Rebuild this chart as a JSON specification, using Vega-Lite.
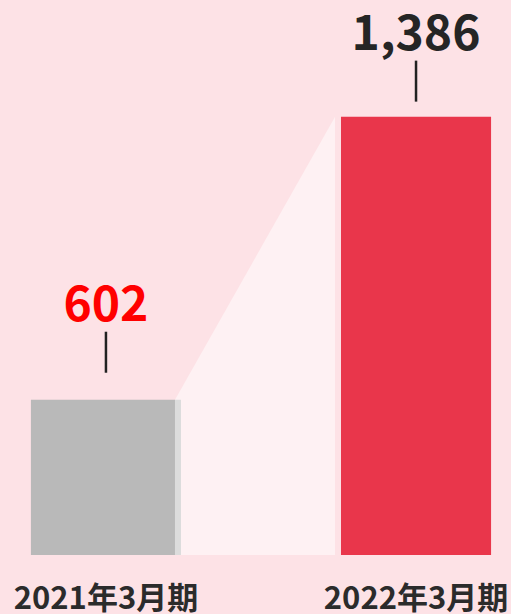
{
  "$schema": "https://vega.github.io/schema/vega-lite/v6.json",
  "width": 511,
  "height": 555,
  "padding": 0,
  "background": "#fde2e6",
  "config": {"view": {"stroke": null}},
  "data": {"values": [
    {"period": "2021年3月期", "value": 602},
    {"period": "2022年3月期", "value": 1386}
  ]},
  "encoding": {
    "x": {
      "field": "period",
      "type": "nominal",
      "sort": null,
      "scale": {"paddingInner": 0.516, "paddingOuter": 0.082, "align": 0.608},
      "axis": {
        "title": null,
        "domain": false,
        "ticks": false,
        "tickSize": 0,
        "labelAngle": 0,
        "labelLimit": 0,
        "labelOverlap": false,
        "labelFont": "Noto Sans CJK JP",
        "labelFontWeight": "bold",
        "labelFontSize": 31,
        "labelColor": "#2b2b2b",
        "labelPadding": 29
      }
    }
  },
  "layer": [
    {
      "mark": {"type": "bar"},
      "encoding": {
        "y": {"field": "value", "type": "quantitative", "scale": {"domain": [172, 1709], "zero": false, "nice": false}, "axis": null},
        "y2": {"datum": 172},
        "color": {"field": "period", "type": "nominal", "scale": {"range": ["#b9b9b9", "#e9364b"]}, "legend": null}
      }
    },
    {
      "mark": {"type": "area", "color": "#ffffff", "opacity": 0.5, "xOffset": {"expr": "datum.value < 1000 ? 69 : -81"}},
      "encoding": {
        "y": {"field": "value", "type": "quantitative"},
        "y2": {"datum": 172}
      }
    },
    {
      "mark": {"type": "rule", "color": "#222222", "strokeWidth": 2.5, "yOffset": {"expr": "datum.value < 1000 ? -27 : -15"}, "y2Offset": {"expr": "datum.value < 1000 ? -68 : -56"}},
      "encoding": {
        "y": {"field": "value", "type": "quantitative"},
        "y2": {"field": "value"}
      }
    },
    {
      "mark": {"type": "text", "font": "Noto Sans CJK JP", "fontWeight": "bold", "fontSize": 48, "baseline": "alphabetic", "dy": {"expr": "datum.value < 1000 ? -79 : -67"}},
      "encoding": {
        "y": {"field": "value", "type": "quantitative"},
        "text": {"field": "value", "type": "quantitative", "format": ","},
        "color": {"field": "period", "type": "nominal", "scale": {"range": ["#ff0000", "#252525"]}, "legend": null}
      }
    }
  ],
  "resolve": {"scale": {"color": "independent"}}
}
